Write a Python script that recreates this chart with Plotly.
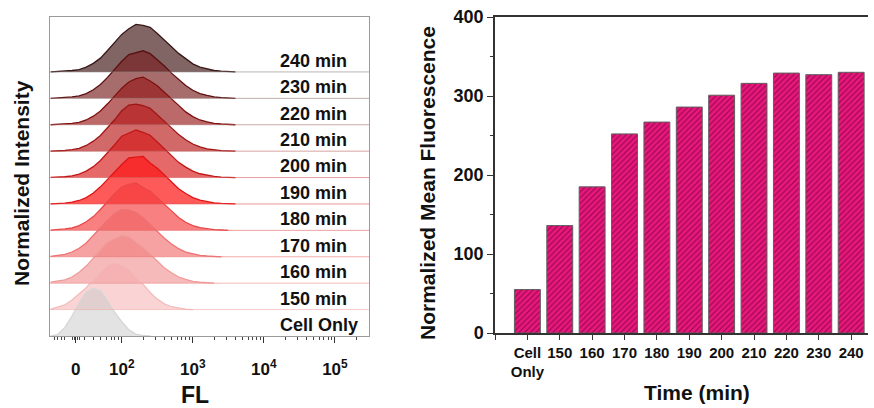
import plotly.graph_objects as go
import math

# ---------------- data ----------------
# Left panel: flow-cytometry histograms (FL axis in display "decade" units, biexponential-like)
samples = ["Cell Only", "150 min", "160 min", "170 min", "180 min", "190 min",
           "200 min", "210 min", "220 min", "230 min", "240 min"]
fl_grid = [1.0, 1.1, 1.2, 1.3, 1.4, 1.5, 1.6, 1.7, 1.8, 1.9, 2.0, 2.1, 2.2, 2.3,
           2.4, 2.5, 2.6, 2.7, 2.8, 2.9, 3.0, 3.1, 3.2, 3.3, 3.4, 3.5, 3.6]
h_cell = [0.00, 0.03, 0.18, 0.42, 0.70, 0.92, 1.00, 0.95, 0.74, 0.50, 0.30, 0.13, 0.04, 0.01,
          0, 0, 0, 0, 0, 0, 0, 0, 0, 0, 0, 0, 0]
h_150 = [0.01, 0.05, 0.10, 0.20, 0.33, 0.46, 0.63, 0.80, 0.94, 1.00, 0.95, 0.87, 0.70, 0.52,
         0.36, 0.22, 0.12, 0.06, 0.03, 0.01, 0, 0, 0, 0, 0, 0, 0]
h_160 = [0.02, 0.04, 0.07, 0.13, 0.23, 0.36, 0.52, 0.69, 0.86, 0.93, 1.00, 0.97, 0.86, 0.74,
         0.61, 0.46, 0.32, 0.22, 0.13, 0.08, 0.04, 0.02, 0.01, 0, 0, 0, 0]
h_170 = [0.01, 0.03, 0.05, 0.10, 0.18, 0.29, 0.44, 0.61, 0.77, 0.91, 0.99, 0.98, 0.93, 0.82,
         0.68, 0.53, 0.39, 0.27, 0.17, 0.10, 0.06, 0.03, 0.016, 0.008, 0, 0, 0]
h_180 = [0.005, 0.01, 0.03, 0.05, 0.10, 0.18, 0.29, 0.44, 0.61, 0.77, 0.91, 0.97, 1.00, 0.90,
         0.82, 0.68, 0.53, 0.39, 0.27, 0.17, 0.10, 0.06, 0.03, 0.016, 0.008, 0, 0]
h_190 = [0.003, 0.007, 0.017, 0.037, 0.073, 0.135, 0.23, 0.36, 0.52, 0.69, 0.83, 0.97, 0.98, 1.00,
         0.86, 0.75, 0.61, 0.46, 0.32, 0.22, 0.135, 0.08, 0.044, 0.023, 0.011, 0.005, 0]
h_200 = [0.003, 0.007, 0.017, 0.037, 0.073, 0.135, 0.23, 0.36, 0.52, 0.69, 0.87, 0.93, 1.00, 0.95,
         0.89, 0.75, 0.61, 0.46, 0.32, 0.22, 0.135, 0.08, 0.044, 0.023, 0.011, 0.005, 0]
h_210 = [0.002, 0.006, 0.014, 0.03, 0.06, 0.12, 0.21, 0.33, 0.49, 0.66, 0.85, 0.97, 0.99, 0.96,
         0.90, 0.77, 0.64, 0.49, 0.35, 0.24, 0.15, 0.09, 0.05, 0.025, 0.012, 0.005, 0]
h_220 = [0, 0.005, 0.01, 0.03, 0.05, 0.10, 0.18, 0.29, 0.44, 0.61, 0.77, 0.90, 0.97, 1.00,
         0.92, 0.82, 0.68, 0.53, 0.39, 0.27, 0.17, 0.10, 0.06, 0.03, 0.016, 0.008, 0]
h_230 = [0, 0.005, 0.01, 0.03, 0.05, 0.10, 0.18, 0.29, 0.44, 0.61, 0.78, 0.92, 0.96, 1.00,
         0.94, 0.82, 0.68, 0.53, 0.39, 0.27, 0.17, 0.10, 0.06, 0.03, 0.016, 0.008, 0]
h_240 = [0, 0.005, 0.01, 0.03, 0.05, 0.10, 0.18, 0.29, 0.45, 0.61, 0.79, 0.91, 1.00, 0.98,
         0.94, 0.81, 0.68, 0.53, 0.39, 0.27, 0.17, 0.10, 0.06, 0.03, 0.016, 0.008, 0]
histograms = [h_cell, h_150, h_160, h_170, h_180, h_190, h_200, h_210, h_220, h_230, h_240]

fl_tickvals = [1.352, 2, 3, 4, 5]
fl_ticktext = ["0", "10<sup>2</sup>", "10<sup>3</sup>", "10<sup>4</sup>", "10<sup>5</sup>"]

# Right panel: mean fluorescence bars
time_labels = ["Cell<br>Only", "150", "160", "170", "180", "190", "200", "210", "220", "230", "240"]
mean_fl = [55, 136, 185, 252, 267, 286, 301, 316, 329, 327, 330]

# ---------------- styles ----------------
FONT = "Liberation Sans, Arial, sans-serif"
fills = ["rgba(200,200,200,0.50)", "rgba(245,170,170,0.50)", "rgba(240,130,130,0.55)",
         "rgba(240,100,100,0.60)", "rgba(245,60,60,0.65)", "rgba(255,20,20,0.70)",
         "rgba(215,25,25,0.65)", "rgba(185,25,25,0.65)", "rgba(150,25,25,0.65)",
         "rgba(120,30,30,0.65)", "rgba(80,40,40,0.72)"]
outlines = ["#d6d6d6", "#f3bcbc", "#ef9a9a", "#ee7272", "#e84848", "#e01414",
            "#c01818", "#a01515", "#801010", "#5a1010", "#3a1818"]
baselines = ["rgba(200,200,200,0.6)", "rgba(240,170,170,0.6)", "rgba(235,140,140,0.6)",
             "rgba(235,120,120,0.6)", "rgba(230,100,100,0.6)", "rgba(225,80,80,0.6)",
             "rgba(210,90,90,0.6)", "rgba(190,100,100,0.6)", "rgba(170,110,110,0.6)",
             "rgba(150,120,120,0.6)", "rgba(140,130,130,0.6)"]
X0, X1 = 0.99, 5.48
YTOP = 12.08
SCALE = 1.8

fig = go.Figure()

xfull = [X0] + fl_grid + [X1]
for i in range(len(samples) - 1, -1, -1):
    h = histograms[i]
    fig.add_trace(go.Scatter(x=xfull, y=[i] * len(xfull), mode="lines",
                             line=dict(width=0, color="rgba(0,0,0,0)"),
                             hoverinfo="skip", showlegend=False, xaxis="x", yaxis="y"))
    fig.add_trace(go.Scatter(x=xfull, y=[i] + [i + SCALE * v for v in h] + [i], mode="lines",
                             fill="tonexty", fillcolor=fills[i],
                             line=dict(width=0, color=fills[i]),
                             hoverinfo="skip", showlegend=False, xaxis="x", yaxis="y"))
    nz = [k for k, v in enumerate(h) if v > 0]
    a, b = max(nz[0] - 1, 0), min(nz[-1] + 1, len(h) - 1)
    fig.add_trace(go.Scatter(x=fl_grid[a:b + 1], y=[i + SCALE * v for v in h[a:b + 1]],
                             mode="lines", line=dict(width=1.3, color=outlines[i]),
                             hoverinfo="skip", showlegend=False, xaxis="x", yaxis="y"))

for i in range(1, len(samples)):
    fig.add_trace(go.Scatter(x=[X0, X1], y=[i, i], mode="lines",
                             line=dict(width=1, color=baselines[i]),
                             hoverinfo="skip", showlegend=False, xaxis="x", yaxis="y"))

for i, s in enumerate(samples):
    fig.add_annotation(x=4.2, y=i + 0.42, xref="x", yref="y", text=s, showarrow=False,
                       xanchor="left", yanchor="middle",
                       font=dict(family=FONT, size=18, color="#111", weight="bold"))

fig.add_trace(go.Bar(x=list(range(len(mean_fl))), y=mean_fl, width=0.8,
                     marker=dict(color="#e4127a",
                                 line=dict(color="#5e5e5e", width=1),
                                 pattern=dict(shape="/", fillmode="replace", bgcolor="#e8187e",
                                              fgcolor="#a00a4e", size=4, solidity=0.3)),
                     showlegend=False, xaxis="x2", yaxis="y2"))

minor_fl = [1.05, 1.1, 1.15, 1.2, 1.3, 1.33, 1.37, 1.4, 1.48, 1.6, 1.7, 1.78, 1.85, 1.9, 1.95]
for d in (2, 3, 4):
    minor_fl += [d + math.log10(k) for k in range(2, 10)]
minor_fl += [5 + math.log10(2)]

fig.update_layout(
    width=874, height=408, margin=dict(l=0, r=0, t=0, b=0, autoexpand=False),
    paper_bgcolor="white", plot_bgcolor="white",
    font=dict(family=FONT, color="#111", weight="bold"),
    xaxis=dict(domain=[50 / 874, 369 / 874], range=[X0, X1], showgrid=False, zeroline=False,
               automargin=False,
               showline=True, mirror=True, linecolor="#9a9a9a", linewidth=1,
               tickmode="array", tickvals=fl_tickvals, ticktext=fl_ticktext,
               ticks="outside", ticklen=6, tickwidth=1.3, tickcolor="#333",
               ticklabelstandoff=12,
               tickfont=dict(family=FONT, size=17, color="#111", weight="bold"),
               minor=dict(tickmode="array", tickvals=minor_fl, ticks="outside",
                          ticklen=3, tickwidth=1, tickcolor="#444", showgrid=False)),
    yaxis=dict(domain=[1 - 336 / 408, 1 - 17 / 408], range=[0, YTOP], showgrid=False,
               automargin=False,
               zeroline=False, showline=True, mirror=True, linecolor="#9a9a9a", linewidth=1,
               showticklabels=False, ticks=""),
    xaxis2=dict(domain=[495 / 874, 868 / 874], range=[-1, 10.52], showgrid=False, zeroline=False,
                automargin=False,
                showline=True, mirror=True, linecolor="#333", linewidth=1.5,
                tickmode="array", tickvals=list(range(len(mean_fl))),
                ticktext=time_labels,
                ticks="outside", ticklen=5, tickwidth=1.3, tickcolor="#333",
                tickfont=dict(family=FONT, size=15, color="#111", weight="bold"),
                minor=dict(tickmode="array", tickvals=[-1], ticks="outside",
                           ticklen=5, tickwidth=1.3, tickcolor="#333", showgrid=False),
                anchor="y2"),
    yaxis2=dict(domain=[1 - 333 / 408, 1 - 17 / 408], range=[0, 400], showgrid=False,
                automargin=False,
                zeroline=False, showline=True, linecolor="#333", linewidth=1.5,
                tickmode="array", tickvals=[0, 100, 200, 300, 400],
                ticks="outside", ticklen=6, tickwidth=1.3, tickcolor="#333",
                tickfont=dict(family=FONT, size=18, color="#111", weight="bold"),
                minor=dict(dtick=50, ticks="outside", ticklen=3, tickwidth=1, tickcolor="#333"),
                anchor="x2"),
    bargap=0.2,
)

titles = [
    ("Normalized Intensity", 22, 183, -90, 21),
    ("FL", 195, 395, 0, 23),
    ("Normalized Mean Fluorescence", 428, 183, -90, 21),
    ("Time (min)", 697, 392, 0, 21),
]
for t, px, py, ang, sz in titles:
    fig.add_annotation(x=px / 874, y=1 - py / 408, xref="paper", yref="paper", text=t,
                       showarrow=False, textangle=ang, xanchor="center", yanchor="middle",
                       font=dict(family=FONT, size=sz, color="#111", weight="bold"))

fig.write_html("out.html")
